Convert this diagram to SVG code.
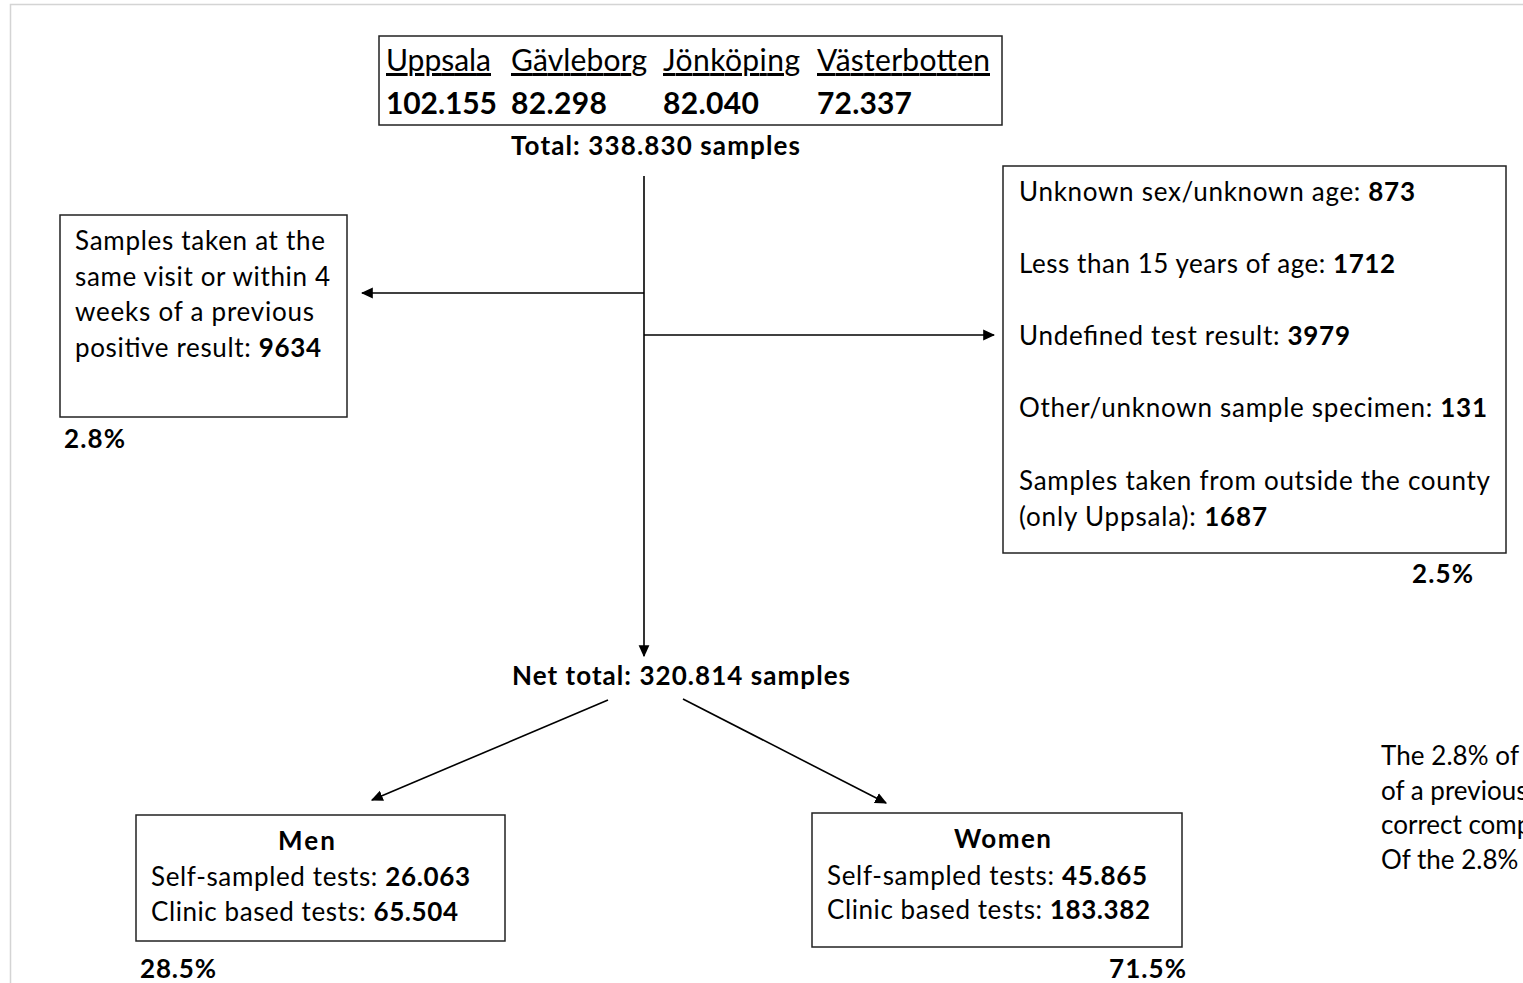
<svg xmlns="http://www.w3.org/2000/svg" width="1523" height="983" viewBox="0 0 1523 983">
<style>
text{font-family:Lato,"Open Sans","Liberation Sans",sans-serif;fill:#000;font-size:26px}
.b{font-weight:bold}
.u{text-decoration:underline}
.big{font-size:30px}
.box{fill:#fff;stroke:#222;stroke-width:1.5}
.ln{stroke:#000;stroke-width:1.6;fill:none}
</style>
<defs>
<marker id="a" viewBox="0 0 10 10" refX="9" refY="5" markerWidth="12" markerHeight="12" orient="auto" markerUnits="userSpaceOnUse">
<path d="M0,0.5 L10,5 L0,9.5 z" fill="#000"/>
</marker>
</defs>
<rect width="1523" height="983" fill="#fff"/>
<path d="M10.5,983 V4.5 H1523" fill="none" stroke="#d4d4d4" stroke-width="1.5"/>

<g id="connectors">
<line class="ln" x1="644" y1="176" x2="644" y2="656" marker-end="url(#a)"/>
<line class="ln" x1="644" y1="293" x2="362" y2="293" marker-end="url(#a)"/>
<line class="ln" x1="644" y1="335" x2="994" y2="335" marker-end="url(#a)"/>
<line class="ln" x1="608" y1="700" x2="372" y2="800" marker-end="url(#a)"/>
<line class="ln" x1="683" y1="699" x2="886" y2="803" marker-end="url(#a)"/>
</g>

<g id="counties">
<rect class="box" x="379" y="36" width="623" height="89"/>
<text class="big u" x="386" y="71" textLength="105">Uppsala</text>
<text class="big u" x="511" y="71" textLength="136">Gävleborg</text>
<text class="big u" x="663" y="71" textLength="137">Jönköping</text>
<text class="big u" x="817" y="71" textLength="173">Västerbotten</text>
<text class="big b" x="386" y="114" textLength="111">102.155</text>
<text class="big b" x="511" y="114" textLength="96">82.298</text>
<text class="big b" x="663" y="114" textLength="96">82.040</text>
<text class="big b" x="817" y="114" textLength="95">72.337</text>
</g>

<g id="total">
<text class="b" x="511" y="155" textLength="289">Total: 338.830 samples</text>
</g>

<g id="duplicates">
<rect class="box" x="60" y="215" width="287" height="202"/>
<text x="75" y="250" textLength="250">Samples taken at the</text>
<text x="75" y="286" textLength="255">same visit or within 4</text>
<text x="75" y="321" textLength="239">weeks of a previous</text>
<text x="75" y="357" textLength="246">positive result: <tspan class="b">9634</tspan></text>
<text class="b" x="64" y="448" textLength="61">2.8%</text>
</g>

<g id="excluded">
<rect class="box" x="1003" y="166" width="503" height="387"/>
<text x="1019" y="201" textLength="396">Unknown sex/unknown age: <tspan class="b">873</tspan></text>
<text x="1019" y="273" textLength="376">Less than 15 years of age: <tspan class="b">1712</tspan></text>
<text x="1019" y="345" textLength="331">Undefined test result: <tspan class="b">3979</tspan></text>
<text x="1019" y="417" textLength="468">Other/unknown sample specimen: <tspan class="b">131</tspan></text>
<text x="1019" y="490" textLength="471">Samples taken from outside the county</text>
<text x="1019" y="526" textLength="248">(only Uppsala): <tspan class="b">1687</tspan></text>
<text class="b" x="1412" y="583" textLength="61">2.5%</text>
</g>

<g id="nettotal">
<text class="b" x="512" y="685" textLength="338">Net total: 320.814 samples</text>
</g>

<g id="men">
<rect class="box" x="136" y="815" width="369" height="126"/>
<text class="b" x="278" y="850" textLength="57">Men</text>
<text x="151" y="886" textLength="319">Self-sampled tests: <tspan class="b">26.063</tspan></text>
<text x="151" y="921" textLength="307">Clinic based tests: <tspan class="b">65.504</tspan></text>
<text class="b" x="140" y="978" textLength="76">28.5%</text>
</g>

<g id="women">
<rect class="box" x="812" y="813" width="370" height="134"/>
<text class="b" x="954" y="848" textLength="97">Women</text>
<text x="827" y="885" textLength="320">Self-sampled tests: <tspan class="b">45.865</tspan></text>
<text x="827" y="919" textLength="323">Clinic based tests: <tspan class="b">183.382</tspan></text>
<text class="b" x="1109" y="978" textLength="77">71.5%</text>
</g>

<g id="note">
<text x="1381" y="765" textLength="138">The 2.8% of</text>
<text x="1381" y="800">of a previous</text>
<text x="1381" y="834">correct comp</text>
<text x="1381" y="869">Of the 2.8%</text>
</g>
</svg>
